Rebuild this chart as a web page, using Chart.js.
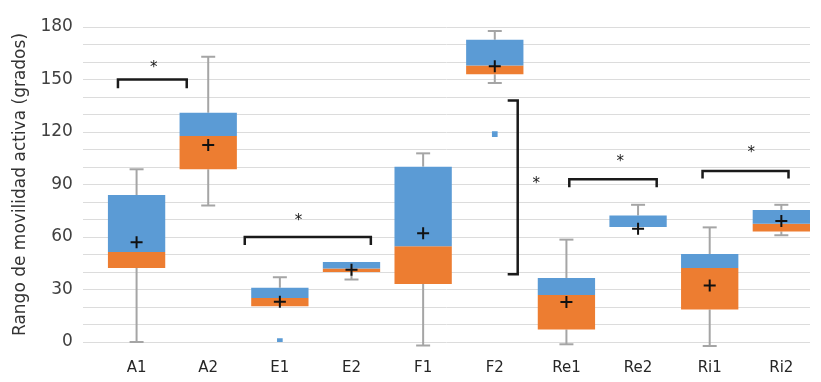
<!DOCTYPE html>
<html>
<head>
<meta charset="utf-8">
<script src="https://cdn.jsdelivr.net/npm/chart.js@4.4.1/dist/chart.umd.min.js"></script>
<style>
  body { margin: 0; background: #fff; }
  #wrap { width: 821px; height: 382px; }
</style>
</head>
<body>
<div id="wrap"><canvas id="boxChart" width="821" height="382"></canvas></div>
<script>
// datos (grados)
const categorias = ['A1', 'A2', 'E1', 'E2', 'F1', 'F2', 'Re1', 'Re2', 'Ri1', 'Ri2'];
const minimos  = [0,    78,    20.5, 35.7, -2,    148,   -1.3, 65.7, -2.3, 61];
const q1       = [42.3, 98.7,  20.5, 40,   33.2,  153,   7.2,  65.7, 18.6, 63.2];
const medianas = [51.4, 117.7, 25.2, 42,   54.7,  158,   26.8, 65.7, 42.3, 67.6];
const q3       = [84,   131,   31,   45.7, 100.2, 172.7, 36.6, 72.3, 50.3, 75.5];
const maximos  = [98.7, 163,   37,   45.7, 107.8, 177.7, 58.5, 78.4, 65.5, 78.4];
const medias   = [57,   112.6, 23,   41.3, 62.2,  157.6, 22.8, 64.7, 32.3, 69.2];
const atipicosGrupo = ['E1', 'F2'];
const atipicosValor = [0.5, 118.8];
const ticksY = [0, 30, 60, 90, 120, 150, 180];

// corchetes de significacion (x en unidades del eje, y en grados)
const corchetes = [
  { x1: -0.26, x2: 0.70, y: 150, pata: 145, ax: 0.24, ay: 156.5 },
  { x1: 1.51,  x2: 3.27, y: 60,  pata: 55.5, ax: 2.26, ay: 69 },
  { x1: 6.04,  x2: 7.26, y: 93,  pata: 88.4, ax: 6.75, ay: 103 },
  { x1: 7.90,  x2: 9.10, y: 97.7, pata: 93.5, ax: 8.58, ay: 108 }
];
const corcheteVertical = { x: 5.32, pata: 5.18, y1: 138, y2: 38.7, ax: 5.58, ay: 90 };

const AZUL = '#5b9bd5';
const NARANJA = '#ed7d31';
const GRIS = '#a5a5a5';

////////////////////////bigotes y corchetes////////////////////
const bigotesPlugin = {
  id: 'bigotes',
  beforeDatasetsDraw(chart) {
    const ctx = chart.ctx;
    const x = chart.scales.x, y = chart.scales.y;
    ctx.save();
    ctx.strokeStyle = GRIS;
    ctx.lineWidth = 2;
    for (let i = 0; i < categorias.length; i++) {
      const px = x.getPixelForValue(i);
      const segs = [[minimos[i], q1[i]], [q3[i], maximos[i]]];
      segs.forEach(function (s) {
        if (s[1] - s[0] <= 0) return;
        ctx.beginPath();
        ctx.moveTo(px, y.getPixelForValue(s[0]));
        ctx.lineTo(px, y.getPixelForValue(s[1]));
        ctx.stroke();
      });
      [minimos[i], maximos[i]].forEach(function (v, k) {
        if ((k === 0 && v === q1[i]) || (k === 1 && v === q3[i])) return;
        ctx.beginPath();
        ctx.moveTo(px - 7, y.getPixelForValue(v));
        ctx.lineTo(px + 7, y.getPixelForValue(v));
        ctx.stroke();
      });
    }
    ctx.restore();
  },
  afterDatasetsDraw(chart) {
    const ctx = chart.ctx;
    const x = chart.scales.x, y = chart.scales.y;
    ctx.save();
    ctx.strokeStyle = '#1a1a1a';
    ctx.fillStyle = '#1a1a1a';
    ctx.lineWidth = 2.5;
    ctx.font = '15px "DejaVu Sans"';
    ctx.textAlign = 'center';
    ctx.textBaseline = 'middle';
    corchetes.forEach(function (c) {
      ctx.beginPath();
      ctx.moveTo(x.getPixelForValue(c.x1), y.getPixelForValue(c.pata));
      ctx.lineTo(x.getPixelForValue(c.x1), y.getPixelForValue(c.y));
      ctx.lineTo(x.getPixelForValue(c.x2), y.getPixelForValue(c.y));
      ctx.lineTo(x.getPixelForValue(c.x2), y.getPixelForValue(c.pata));
      ctx.stroke();
      ctx.fillText('*', x.getPixelForValue(c.ax), y.getPixelForValue(c.ay));
    });
    const v = corcheteVertical;
    ctx.beginPath();
    ctx.moveTo(x.getPixelForValue(v.pata), y.getPixelForValue(v.y1));
    ctx.lineTo(x.getPixelForValue(v.x), y.getPixelForValue(v.y1));
    ctx.lineTo(x.getPixelForValue(v.x), y.getPixelForValue(v.y2));
    ctx.lineTo(x.getPixelForValue(v.pata), y.getPixelForValue(v.y2));
    ctx.stroke();
    ctx.fillText('*', x.getPixelForValue(v.ax), y.getPixelForValue(v.ay));
    ctx.restore();
  }
};

document.addEventListener('DOMContentLoaded', function () {
  const canvas = document.getElementById('boxChart').getContext('2d');
  const chart = new Chart(canvas, {
    type: 'bar',
    data: {
      datasets: [
        {
          label: 'Q1-mediana',
          data: categorias.map(function (c, i) { return { x: i, y: [q1[i], medianas[i]] }; }),
          backgroundColor: NARANJA,
          grouped: false,
          barPercentage: 0.8,
          categoryPercentage: 1.0,
          order: 3
        },
        {
          label: 'mediana-Q3',
          data: categorias.map(function (c, i) { return { x: i, y: [medianas[i], q3[i]] }; }),
          backgroundColor: AZUL,
          grouped: false,
          barPercentage: 0.8,
          categoryPercentage: 1.0,
          order: 2
        },
        {
          type: 'scatter',
          label: 'media',
          data: categorias.map(function (c, i) { return { x: i, y: medias[i] }; }),
          pointStyle: 'cross',
          radius: 6,
          borderColor: '#111',
          borderWidth: 2,
          order: 1
        },
        {
          type: 'scatter',
          label: 'atipicos',
          data: atipicosGrupo.map(function (g, k) { return { x: categorias.indexOf(g), y: atipicosValor[k] }; }),
          pointStyle: 'rect',
          radius: 4,
          backgroundColor: AZUL,
          borderColor: AZUL,
          borderWidth: 0,
          order: 1
        }
      ]
    },
    options: {
      responsive: false,
      maintainAspectRatio: false,
      animation: false,
      layout: { padding: { top: 27, right: 11, left: 10, bottom: -4 } },
      plugins: {
        legend: { display: false },
        tooltip: { enabled: false }
      },
      scales: {
        x: {
          type: 'linear',
          min: -0.75,
          max: 9.4,
          offset: false,
          grid: { display: false },
          border: { display: false },
          afterBuildTicks: function (axis) {
            axis.ticks = categorias.map(function (c, i) { return { value: i }; });
          },
          ticks: {
            autoSkip: false,
            maxRotation: 0,
            padding: 9,
            color: '#262626',
            font: { family: 'DejaVu Sans', size: 15 },
            callback: function (v) { return categorias[v]; }
          }
        },
        y: {
          min: 0,
          max: 180,
          grid: { color: '#dcdcdc', lineWidth: 1, drawTicks: false },
          border: { display: false },
          ticks: {
            stepSize: 10,
            autoSkip: false,
            padding: 10,
            color: '#404040',
            font: { family: 'DejaVu Sans', size: 17 },
            callback: function (v) { return ticksY.indexOf(v) >= 0 ? String(v) : ''; }
          },
          title: {
            display: true,
            text: 'Rango de movilidad activa (grados)',
            color: '#333',
            font: { family: 'DejaVu Sans', size: 17 },
            padding: { top: 0, bottom: 0 }
          }
        }
      }
    },
    plugins: [bigotesPlugin]
  });
});
</script>
</body>
</html>
